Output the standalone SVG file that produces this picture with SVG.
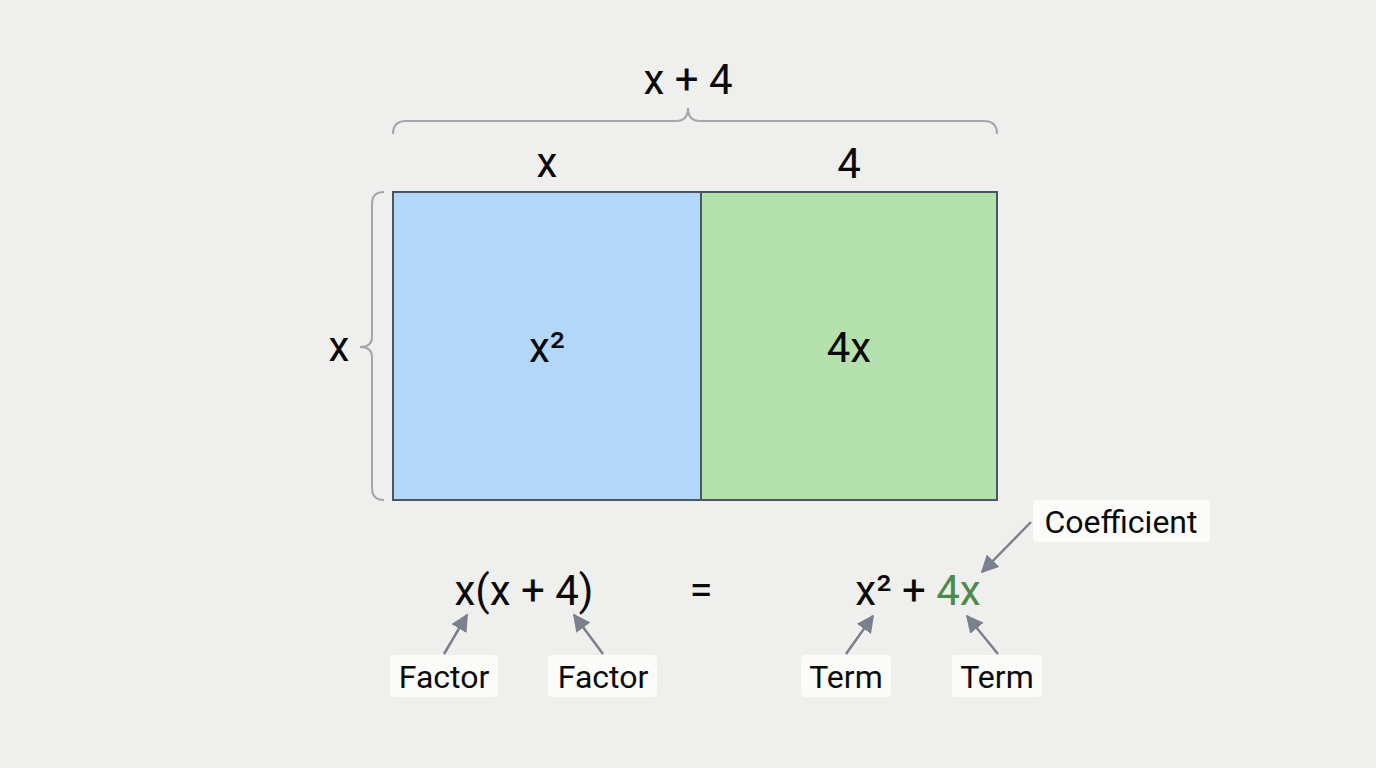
<svg xmlns="http://www.w3.org/2000/svg" width="1376" height="768" viewBox="0 0 1376 768">
<style>
text{font-family:Roboto,"Liberation Sans",sans-serif;fill:#0a0a0a;}
.big{font-size:42px;text-anchor:middle;}
.lbl{font-size:32px;text-anchor:middle;}
.box{fill:#fbfbfa;stroke:none;}
.brace{fill:none;stroke:#a3a6aa;stroke-width:2;}
.arr{stroke:#7b808c;stroke-width:2.5;fill:none;marker-end:url(#ah);}
</style>
<defs>
<marker id="ah" viewBox="0 0 10 10" refX="9" refY="5" markerWidth="7" markerHeight="7" markerUnits="strokeWidth" orient="auto">
<path d="M0,0 L10,5 L0,10 z" fill="#7b808c"/>
</marker>
</defs>
<rect width="1376" height="768" fill="#efefed"/>
<g id="braces">
<path class="brace" d="M393,134 Q393,121 406,121 L676,121 Q688,121 688,108 Q688,121 700,121 L984,121 Q997,121 997,134"/>
<path class="brace" d="M384,192 Q372,192 372,204 L372,337 Q372,347 360,347 Q372,347 372,357 L372,488 Q372,500 384,500"/>
</g>
<g id="dim-labels">
<text class="big" x="688" y="94">x + 4</text>
<text class="big" x="547" y="177">x</text>
<text class="big" x="849" y="178">4</text>
<text class="big" x="339" y="361">x</text>
</g>
<g id="area-x2">
<rect x="393" y="192" width="308" height="308" fill="#b3d7f9" stroke="#4c5663" stroke-width="2"/>
<text class="big" x="547" y="362">x²</text>
</g>
<g id="area-4x">
<rect x="701" y="192" width="296" height="308" fill="#b4e0ae" stroke="#4c5663" stroke-width="2"/>
<text class="big" x="849" y="362">4x</text>
</g>
<g id="equation">
<text class="big" x="524" y="605">x(x + 4)</text>
<text class="big" x="701" y="604">=</text>
<text class="big" x="918" y="605">x² + <tspan fill="#4d8a4d">4x</tspan></text>
</g>
<g id="label-factor1">
<rect class="box" x="390" y="655" width="108" height="42" rx="4"/>
<text class="lbl" x="444" y="688">Factor</text>
</g>
<g id="label-factor2">
<rect class="box" x="548" y="655" width="109" height="42" rx="4"/>
<text class="lbl" x="603" y="688">Factor</text>
</g>
<g id="label-term1">
<rect class="box" x="801" y="655" width="90" height="42" rx="4"/>
<text class="lbl" x="846" y="688">Term</text>
</g>
<g id="label-term2">
<rect class="box" x="952" y="655" width="90" height="42" rx="4"/>
<text class="lbl" x="997" y="688">Term</text>
</g>
<g id="label-coefficient">
<rect class="box" x="1033" y="500" width="177" height="42" rx="4"/>
<text class="lbl" x="1121" y="533">Coefficient</text>
</g>
<g id="connectors">
<line class="arr" x1="444" y1="654" x2="467" y2="615"/>
<line class="arr" x1="603" y1="654" x2="574" y2="615"/>
<line class="arr" x1="846" y1="654" x2="873" y2="616"/>
<line class="arr" x1="998" y1="654" x2="967" y2="616"/>
<line class="arr" x1="1031" y1="522" x2="982" y2="572"/>
</g>
</svg>
